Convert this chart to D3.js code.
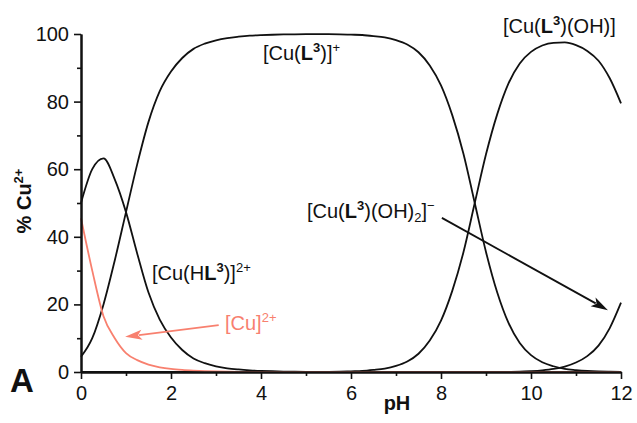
<!DOCTYPE html>
<html>
<head>
<meta charset="utf-8">
<script src="https://cdn.jsdelivr.net/npm/d3@7/dist/d3.min.js"></script>
<style>
  body { margin: 0; background: #fff; }
  svg { display: block; }
  text { font-family: "Liberation Sans", Arial, Helvetica, sans-serif; }
</style>
</head>
<body>
<svg id="chart" width="637" height="423"></svg>
<script>
// Species distribution of Cu(II) with ligand L3 versus pH (% of total Cu)
const pH = [0, 0.25, 0.5, 0.75, 1, 1.25, 1.5, 1.75, 2, 2.25, 2.5, 2.75, 3, 3.25, 3.5, 3.75,
            4, 4.25, 4.5, 4.75, 5, 5.25, 5.5, 5.75, 6, 6.25, 6.5, 6.75, 7, 7.25, 7.5, 7.75,
            8, 8.25, 8.5, 8.75, 9, 9.25, 9.5, 9.75, 10, 10.25, 10.5, 10.75, 11, 11.25, 11.5, 11.75, 12];

// [Cu]2+
const cuFree = [45.5, 30, 16.5, 10, 5.6, 3.5, 2.2, 1.4, 0.9, 0.6, 0.4, 0.25, 0.15, 0.08, 0.04, 0.02,
                0, 0, 0, 0, 0, 0, 0, 0, 0, 0, 0, 0, 0, 0, 0, 0,
                0, 0, 0, 0, 0, 0, 0, 0, 0, 0, 0, 0, 0, 0, 0, 0, 0];
// [Cu(HL3)]2+
const cuHL = [50, 60, 63.2, 57, 47.3, 35, 23.5, 15.5, 10.2, 6.5, 4.0, 2.6, 1.7, 1.1, 0.75, 0.5,
              0.33, 0.22, 0.14, 0.09, 0.06, 0.04, 0.02, 0.01, 0, 0, 0, 0, 0, 0, 0, 0,
              0, 0, 0, 0, 0, 0, 0, 0, 0, 0, 0, 0, 0, 0, 0, 0, 0];
// [Cu(L3)]+
const cuL = [4.5, 10, 20, 33, 47.3, 61.5, 74, 83.1, 88.9, 92.9, 95.6, 97.15, 98.15, 98.8, 99.2, 99.5,
             99.67, 99.78, 99.86, 99.91, 99.94, 99.95, 99.95, 99.9, 99.8, 99.7, 99.4, 99.0, 98.2, 96.9, 94.6, 90.7,
             84.8, 76, 64.5, 50, 35.5, 23.5, 14.5, 8.6, 5.0, 2.9, 1.7, 0.9, 0.55, 0.3, 0.15, 0.08, 0.04];
// [Cu(L3)(OH)]
const cuLOH = [0, 0, 0, 0, 0, 0, 0, 0, 0, 0, 0, 0, 0, 0, 0, 0,
               0, 0, 0, 0, 0.02, 0.03, 0.05, 0.1, 0.2, 0.3, 0.6, 1.0, 1.8, 3.1, 5.4, 9.3,
               15.2, 24, 35.5, 50, 64.4, 76.3, 85.4, 91.3, 94.7, 96.6, 97.4, 97.5, 96.7, 95.0, 92.1, 86.9, 79.5];
// [Cu(L3)(OH)2]-
const cuLOH2 = [0, 0, 0, 0, 0, 0, 0, 0, 0, 0, 0, 0, 0, 0, 0, 0,
                0, 0, 0, 0, 0, 0, 0, 0, 0, 0, 0, 0, 0, 0, 0, 0,
                0, 0, 0, 0, 0.01, 0.02, 0.04, 0.08, 0.25, 0.5, 0.9, 1.6, 2.8, 4.7, 7.8, 13.0, 20.5];

const xMajorTicks = [0, 2, 4, 6, 8, 10, 12];
const xMinorTicks = [1, 3, 5, 7, 9, 11];
const yMajorTicks = [0, 20, 40, 60, 80, 100];
const yMinorTicks = [10, 30, 50, 70, 90];

const SALMON = "#f8806f";
const INK = "#111";

const svg = d3.select("#chart");
const x = d3.scaleLinear().domain([0, 12]).range([81, 621]);
const y = d3.scaleLinear().domain([0, 100]).range([372, 34]);

// curves
const line = d3.line()
  .x((d, i) => x(pH[i]))
  .y(d => y(d))
  .curve(d3.curveMonotoneX);

const curves = svg.append("g").attr("fill", "none").attr("stroke-width", 1.8);
[cuHL, cuL, cuLOH, cuLOH2].forEach(s => {
  curves.append("path").attr("d", line(s)).attr("stroke", INK);
});
curves.append("path").attr("d", line(cuFree)).attr("stroke", SALMON);

// axes
function styleAxis(g) {
  g.select(".domain").attr("stroke", INK).attr("stroke-width", 2);
  g.selectAll(".tick line").attr("stroke", INK).attr("stroke-width", 1.6);
  g.selectAll(".tick text").attr("fill", INK).style("font-size", "20px")
    .style("font-family", "'Liberation Sans', Arial, sans-serif");
}

svg.append("g").attr("transform", "translate(81,0)")
  .call(d3.axisLeft(y).tickValues(yMinorTicks).tickSize(4).tickSizeOuter(0).tickFormat(""))
  .call(styleAxis);
svg.append("g").attr("transform", "translate(81,0)")
  .call(d3.axisLeft(y).tickValues(yMajorTicks).tickSize(7).tickSizeOuter(0).tickPadding(5))
  .call(styleAxis);

svg.append("g").attr("transform", "translate(0,372)")
  .call(d3.axisBottom(x).tickValues(xMinorTicks).tickSize(4).tickSizeOuter(0).tickFormat(""))
  .call(styleAxis);
svg.append("g").attr("transform", "translate(0,372)")
  .call(d3.axisBottom(x).tickValues(xMajorTicks).tickSize(7).tickSizeOuter(0).tickPadding(7))
  .call(styleAxis);

// axis titles
svg.append("text")
  .attr("x", 397).attr("y", 410)
  .attr("text-anchor", "middle")
  .style("font-size", "20px").style("font-weight", "bold").attr("fill", INK)
  .text("pH");

const yTitle = svg.append("text")
  .attr("transform", "translate(31,201) rotate(-90)")
  .attr("text-anchor", "middle")
  .style("font-size", "20px").style("font-weight", "bold").attr("fill", INK);
yTitle.append("tspan").text("% Cu");
yTitle.append("tspan").attr("dy", -8).style("font-size", "13px").text("2+");

svg.append("text")
  .attr("x", 10).attr("y", 392)
  .style("font-size", "33px").style("font-weight", "bold").attr("fill", INK)
  .text("A");

// rich species labels: parts are [text, kind]; kind: "" normal, "b" bold,
// "sup"/"bsup" raised small, "sub" lowered small
function richLabel(px, py, parts, color) {
  const t = svg.append("text").attr("x", px).attr("y", py)
    .style("font-size", "20px").attr("fill", color);
  let shift = 0;
  parts.forEach(([s, kind]) => {
    let target = 0;
    if (kind === "sup" || kind === "bsup") target = -8;
    if (kind === "sub") target = 4;
    const ts = t.append("tspan").text(s);
    if (target !== shift) { ts.attr("dy", target - shift); shift = target; }
    if (kind === "b" || kind === "bsup") ts.style("font-weight", "bold");
    if (kind === "sup" || kind === "bsup" || kind === "sub") ts.style("font-size", "13px");
  });
  return t;
}

richLabel(263, 60, [["[Cu(", ""], ["L", "b"], ["3", "bsup"], [")]", ""], ["+", "sup"]], INK);
richLabel(503, 33, [["[Cu(", ""], ["L", "b"], ["3", "bsup"], [")(OH)]", ""]], INK);
richLabel(307, 218, [["[Cu(", ""], ["L", "b"], ["3", "bsup"], [")(OH)", ""], ["2", "sub"], ["]", ""], ["\u2212", "sup"]], INK);
richLabel(152, 280, [["[Cu(H", ""], ["L", "b"], ["3", "bsup"], [")]", ""], ["2+", "sup"]], INK);
richLabel(225, 330, [["[Cu]", ""], ["2+", "sup"]], SALMON);

// arrows pointing at the curves
function arrow(x0, y0, x1, y1, color) {
  const len = 17, half = 5;
  const dx = x1 - x0, dy = y1 - y0, L = Math.hypot(dx, dy);
  const ux = dx / L, uy = dy / L;
  const bx = x1 - ux * len, by = y1 - uy * len;
  svg.append("line")
    .attr("x1", x0).attr("y1", y0).attr("x2", bx + ux * 3).attr("y2", by + uy * 3)
    .attr("stroke", color).attr("stroke-width", 1.8);
  svg.append("path")
    .attr("d", `M${x1},${y1}L${bx - uy * half},${by + ux * half}L${bx + ux * 4},${by + uy * 4}L${bx + uy * half},${by - ux * half}Z`)
    .attr("fill", color);
}
arrow(x(8.02), y(45.6), x(11.71), y(18.3), INK);
arrow(x(3.06), y(13.9), x(0.98), y(10.4), SALMON);
</script>
</body>
</html>
